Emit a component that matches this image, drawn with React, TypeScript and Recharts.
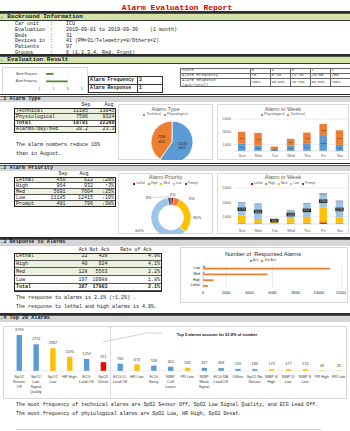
import React from 'react';
import { BarChart, Bar, XAxis, YAxis, CartesianGrid, PieChart, Pie, Cell, LabelList } from 'recharts';

const MONO = '"Liberation Mono", "DejaVu Sans Mono", monospace';
const SANS = '"Liberation Sans", "Open Sans", Arial, sans-serif';
const BLUE = '#5b9bd5';
const ORANGE = '#ed7d31';
const YELLOW = '#ffc000';
const RED = '#c00000';
const LIGHTBLUE = '#9dc3e6';
const DARK = '#44546a';
const GREEN_ROW = '#ebf1de';

// ---------- data ----------
const infoLabels = ['Car unit', 'Evaluation', 'Beds', 'Devices in', 'Patients', 'Groups'];
const infoValues = ['ICU', '2019-09-01 to 2019-09-30    (1 month)', '31', '41 (PM=31/Telemetry=8/Others=2)', '97', '6 (1,2,3,4, Red, Front)'];

const evalItems = ['Alarm Response', 'Alarm Frequency'];
const evalScores = [1, 3];
const evalTicks = [-1, 1, 3, 5];

const scoreLevels = ['5', '4', '3', '2', '1'];
const freqRanges = ['<5', '5~10', '11~25', '26~50', '>50'];
const respRanges = ['>90%', '90~80%', '79~70%', '69~60%', '<60%'];

const typeNames = ['Technical', 'Physiological'];
const typeSep = [11185, 7596];
const typeAug = [13045, 9324];
const perDayBed = ['20.2', '23.3'];

const days = ['Sun', 'Mon', 'Tue', 'Wed', 'Thu', 'Fri', 'Sat'];
const weekPhys = [1136, 868, 328, 843, 1119, 2350, 952];
const weekTech = [1867, 1964, 372, 1051, 1768, 1885, 2278];
const weekTicks = [0, 1000, 2000, 3000, 4000, 5000];

const prioNames = ['Lethal', 'High', 'Med', 'Low', 'Prompt'];
const prioSep = [450, 964, 5691, 11185, 491];
const prioAug = [622, 932, 7604, 12415, 796];
const prioChange = ['\u219328%', '\u21913%', '\u219325%', '\u219310%', '\u219338%'];
const weekLethal = [70, 60, 15, 50, 60, 140, 55];
const weekHigh = [130, 140, 30, 120, 150, 250, 144];
const weekMed = [1000, 500, 230, 630, 790, 1860, 681];
const weekLow = [1733, 2062, 400, 1034, 1817, 1860, 2279];
const weekPrompt = [70, 70, 25, 60, 70, 125, 71];

const respNames = ['Lethal', 'High', 'Med', 'Low'];
const respAck = [22, 40, 128, 197];
const respNotAck = [428, 924, 5563, 10988];
const respTicks = [0, 2000, 4000, 6000, 8000, 10000, 12000];

const top20Names = ['SpO2\nSensor\nOff', 'SpO2\nLow\nSignal\nQuality', 'SpO2\nLow', 'HR High', 'ECG\nLead Off', 'SpO2\nDesat', 'ECG LL\nLead Off', 'HR Low', 'ECG\nNoisy', 'NIBP\nCuff\nLoose', 'PR Low', 'NIBP\nWeak\nSignal', 'ECG RA\nLead Off', 'Offline', 'SpO2 No\nSensor', 'NIBP-S\nHigh', 'NIBP-D\nLow', 'NIBP-S\nLow', 'PR High', 'RR Low'];
const top20Counts = [3739, 2774, 2367, 1470, 1250, 915, 760, 673, 558, 450, 335, 327, 308, 219, 184, 179, 177, 174, 49, 26];
const top20Kinds = ['T', 'T', 'P', 'P', 'T', 'D', 'T', 'P', 'T', 'T', 'P', 'T', 'T', 'T', 'T', 'P', 'P', 'P', 'P', 'P'];

// ---------- derived tables for the library ----------
const sum = (a: number[]) => a.reduce((s, v) => s + v, 0);
const evalData = evalItems.map((n, i) => ({ name: n, v: evalScores[i] }));
const typePieData = typeNames.map((n, i) => ({ name: n, value: typeSep[i] }));
const typeWeekData = days.map((d, i) => ({ day: d, phys: weekPhys[i], tech: weekTech[i] }));
const prioPieData = prioNames.map((n, i) => ({ name: n, value: prioSep[i] }));
const prioWeekData = days.map((d, i) => ({ day: d, lethal: weekLethal[i], high: weekHigh[i], med: weekMed[i], low: weekLow[i], prompt: weekPrompt[i] }));
const respData = respNames.map((n, i) => ({ name: n, ack: respAck[i], notAck: respNotAck[i] })).reverse();
const top20Data = top20Names.map((n, i) => ({ name: n, count: top20Counts[i] }));
const kindColor: Record<string, string> = { T: BLUE, P: YELLOW, D: '#ff0000' };
const prioColors = [RED, ORANGE, YELLOW, LIGHTBLUE, DARK];
const typeColors = [BLUE, ORANGE];

const RAD = Math.PI / 180;

// ---------- helpers ----------
function T({ x, y, s = 5, a = 'l', b = false, c = '#1a1a1a', f = MONO, u = false, children }: any) {
  const w = 260;
  const left = a === 'l' ? x : a === 'r' ? x - w : x - w / 2;
  return (
    <div style={{ position: 'absolute', left, top: y - s / 2, width: w, textAlign: a === 'l' ? 'left' : a === 'r' ? 'right' : 'center', fontSize: s, lineHeight: `${s}px`, fontFamily: f, fontWeight: b ? 700 : 400, color: c, whiteSpace: 'pre', textDecoration: u ? 'underline' : 'none' }}>{children}</div>
  );
}

function Box({ x, y, w, h, border = '1px solid #d9d9d9', bg = 'transparent' }: any) {
  return <div style={{ position: 'absolute', left: x, top: y, width: w, height: h, border, background: bg, boxSizing: 'border-box' }} />;
}

function Section({ y, label, green }: any) {
  return (
    <>
      <div style={{ position: 'absolute', left: 0, top: y - 3, width: 350, height: 1.5, background: '#2b2b2b' }} />
      <div style={{ position: 'absolute', left: 0, top: y - 1, width: 350, height: 1, background: '#555' }} />
      <div style={{ position: 'absolute', left: 0, top: y, width: 350, height: 5.5, background: green ? '#d6e3a8' : '#d6d6d6', borderBottom: green ? '0.8px solid #333' : 'none' }} />
      <T x={green ? -3.6 : -3} y={y + 2.9} s={green ? 6 : 5.2} b>{label}</T>
    </>
  );
}

function Legend({ cx, y, items, s = 3.6 }: any) {
  return (
    <div style={{ position: 'absolute', left: cx - 70, width: 140, top: y - s / 2, display: 'flex', justifyContent: 'center', gap: 3, fontSize: s, lineHeight: `${s}px`, fontFamily: SANS, color: '#595959', whiteSpace: 'pre' }}>
      {items.map(([c, t]: any) => (
        <span key={t} style={{ display: 'flex', alignItems: 'center' }}>
          <span style={{ display: 'inline-block', width: 2, height: 2, background: c, marginRight: 1 }} />
          {t}
        </span>
      ))}
    </div>
  );
}

const axisTick = { fontSize: 3.8, fill: '#595959', fontFamily: SANS };

const WrapTick = (props: any) => {
  const { x, y, payload } = props;
  const lines = String(payload.value).split('\n');
  return (
    <g>
      {lines.map((l, i) => (
        <text key={i} x={x} y={y + 7.3 + i * 5} textAnchor="middle" fontSize={3.8} fill="#404040" fontFamily={SANS}>{l}</text>
      ))}
    </g>
  );
};

const EvalTick = (props: any) => {
  const { x, y, payload } = props;
  return (
    <text x={x} y={y + 1} textAnchor="end" fontSize={2.8} fill="#404040" fontFamily={SANS}>{payload.value}</text>
  );
};

const typePieLabel = (p: any) => {
  const r = p.outerRadius * 0.52;
  const x = p.cx + r * Math.cos(-p.midAngle * RAD);
  const y = p.cy + r * Math.sin(-p.midAngle * RAD);
  return (
    <text x={x} y={y} textAnchor="middle" fontSize={3.6} fill="#262626" fontFamily={SANS}>
      <tspan x={x} dy={-0.6}>{p.value}</tspan>
      <tspan x={x} dy={4.4}>{Math.round(p.percent * 100)}%</tspan>
    </text>
  );
};

const prioLabelAdj = [
  { da: 0, dr: 3, line: false },
  { da: -30, dr: 8, line: false },
  { da: -8, dr: 6, line: false },
  { da: -4.5, dr: 14, line: false },
  { da: 44, dr: 10, line: true },
];
const prioPieLabel = (p: any) => {
  const adj = prioLabelAdj[p.index];
  const a = (p.midAngle + adj.da) * RAD;
  const r = p.outerRadius + adj.dr;
  const x = p.cx + r * Math.cos(-a);
  const y = p.cy + r * Math.sin(-a);
  const ex = p.cx + (p.outerRadius + 1) * Math.cos(-p.midAngle * RAD);
  const ey = p.cy + (p.outerRadius + 1) * Math.sin(-p.midAngle * RAD);
  return (
    <g>
      {adj.line && <polyline points={`${x + 4},${y} ${ex},${ey}`} stroke="#a6a6a6" strokeWidth={0.5} fill="none" />}
      <text x={x} y={y + 1.4} textAnchor="middle" fontSize={4.2} fill="#404040" fontFamily={SANS}>{Math.round(p.percent * 100)}%</text>
    </g>
  );
};

const DarkLabel = (p: any) => {
  const { x, y, width, height, value } = p;
  const cx = x + width / 2;
  const cy = y + height / 2;
  return (
    <g>
      <rect x={cx - 4.2} y={cy - 1.8} width={8.4} height={3.6} fill="#262626" />
      <text x={cx} y={cy + 1.1} fontSize={3} textAnchor="middle" fill="#cfcfcf" fontFamily={SANS}>{value}</text>
    </g>
  );
};

export default function App() {
  const infoY = [24.3, 30, 36, 41.7, 47.7, 53.3];
  const typeRowH = 6.25;
  const prioRowH = 6;
  const respRowH = 7.7;
  const typeRows = [
    { l: typeNames[0], a: String(typeSep[0]), b: String(typeAug[0]), fill: GREEN_ROW, bold: false },
    { l: typeNames[1], a: String(typeSep[1]), b: String(typeAug[1]), fill: GREEN_ROW, bold: false },
    { l: 'Total', a: String(sum(typeSep)), b: String(sum(typeAug)), fill: '#fbfcf7', bold: true },
    { l: 'Alarms/day/bed', a: perDayBed[0], b: perDayBed[1], fill: GREEN_ROW, bold: false },
  ];
  const respRows = respNames.map((n, i) => ({ l: n, a: String(respAck[i]), b: String(respNotAck[i]), c: (respAck[i] / (respAck[i] + respNotAck[i]) * 100).toFixed(1) + '%', bold: false }));
  const tA = sum(respAck), tN = sum(respNotAck);
  respRows.push({ l: 'Total', a: String(tA), b: String(tN), c: (tA / (tA + tN) * 100).toFixed(1) + '%', bold: true });
  const respFills = [GREEN_ROW, GREEN_ROW, GREEN_ROW, '#ffffff', '#fbfcf7'];

  return (
    <div style={{ position: 'absolute', left: 0, top: 0, width: 350, height: 431, overflow: 'hidden', background: '#fff', color: '#1a1a1a' }}>
      {/* Title */}
      <T x={177} y={8} s={8} a="c" b c="#d40000" u>Alarm Evaluation Report</T>

      <Section y={14} label="1. Backround Information" green />
      {infoLabels.map((l, i) => (
        <React.Fragment key={l}>
          <T x={15} y={infoY[i]} s={5}>{l}</T>
          <T x={50} y={infoY[i]} s={5}>:</T>
          <T x={66} y={infoY[i]} s={5}>{infoValues[i]}</T>
        </React.Fragment>
      ))}

      <Section y={57} label="2. Evaluation Result" green />
      {/* mini evaluation chart */}
      <Box x={2} y={67} w={86} h={28} />
      <div style={{ position: 'absolute', left: 2, top: 67 }}>
        <BarChart layout="vertical" width={86} height={28} data={evalData} margin={{ top: 3, right: 6, bottom: 0, left: 0 }}>
          <CartesianGrid horizontal={false} stroke="#e0e0e0" strokeWidth={0.5} />
          <XAxis type="number" domain={[-1, 5]} ticks={evalTicks} tick={{ fontSize: 3, fill: '#404040', fontFamily: SANS }} tickLine={false} axisLine={false} height={10} tickSize={2} tickMargin={1} />
          <YAxis type="category" dataKey="name" width={37} interval={0} tick={<EvalTick />} tickLine={false} axisLine={false} tickSize={0} tickMargin={2} />
          <Bar dataKey="v" fill="#4f8a2e" barSize={1.8} isAnimationActive={false} />
        </BarChart>
      </div>
      {/* eval table */}
      <Box x={88} y={76} w={75} h={16.5} border="1px solid #333" />
      <div style={{ position: 'absolute', left: 88, top: 84, width: 75, height: 0.8, background: '#333' }} />
      <div style={{ position: 'absolute', left: 137, top: 76, width: 0.8, height: 16.5, background: '#333' }} />
      <T x={90} y={80.3} s={4.9} b>Alarm Frequency</T>
      <T x={139} y={80.3} s={4.9} b>{String(evalScores[1])}</T>
      <T x={90} y={88.3} s={4.9} b>Alarm Response</T>
      <T x={139} y={88.3} s={4.9} b>{String(evalScores[0])}</T>
      {/* score table */}
      <Box x={180} y={68} w={172} h={19} border="0.8px solid #666" />
      <div style={{ position: 'absolute', left: 180, top: 72.5, width: 172, height: 0.6, background: '#666' }} />
      <div style={{ position: 'absolute', left: 180, top: 77.8, width: 172, height: 0.6, background: '#666' }} />
      {[250, 270, 290, 310, 330].map((x) => (
        <div key={x} style={{ position: 'absolute', left: x, top: 68, width: 0.6, height: 19, background: '#666' }} />
      ))}
      <T x={182} y={70.4} s={4} c="#444">Score</T>
      <T x={182} y={75.3} s={4} c="#444">Alarm Frequency</T>
      <T x={182} y={80.3} s={4} c="#444">Alarm Response</T>
      <T x={182} y={84.6} s={4} c="#444">(Ack/Total)</T>
      {scoreLevels.map((v, i) => (
        <React.Fragment key={v}>
          <T x={251.5 + i * 20} y={70.4} s={4} c="#444">{v}</T>
          <T x={251.5 + i * 20} y={75.3} s={4} c="#444">{freqRanges[i]}</T>
          <T x={251.5 + i * 20} y={82.4} s={3.6} c="#444">{respRanges[i]}</T>
        </React.Fragment>
      ))}

      {/* 2.1 Alarm Type */}
      <Section y={96.5} label="2.1 Alarm Type" />
      <T x={86} y={105.3} s={5} a="c">Sep</T>
      <T x={109} y={105.3} s={5} a="c">Aug</T>
      {typeRows.map((r, i) => (
        <React.Fragment key={r.l}>
          <div style={{ position: 'absolute', left: 14, top: 108 + i * typeRowH, width: 102, height: typeRowH, background: r.fill, borderBottom: '0.6px solid #555', boxSizing: 'border-box' }} />
          <T x={16} y={108 + i * typeRowH + 3.2} s={5} b={r.bold}>{r.l}</T>
          <T x={88} y={108 + i * typeRowH + 3.2} s={5} a="r" b={r.bold}>{r.a}</T>
          <T x={114.5} y={108 + i * typeRowH + 3.2} s={5} a="r" b={r.bold}>{r.b}</T>
        </React.Fragment>
      ))}
      <Box x={14} y={108} w={102} h={25} border="1.2px solid #222" />
      <T x={16} y={145} s={5}>The alarm numbers reduce 16%</T>
      <T x={16} y={154} s={5}>than in August.</T>

      {/* type pie */}
      <Box x={118} y={104} w={95} h={56} />
      <T x={165.5} y={110} s={5.6} a="c" f={SANS} c="#595959">Alarm Type</T>
      <Legend cx={165.5} y={114.5} items={[[BLUE, 'Technical'], [ORANGE, 'Physiological']]} s={3.5} />
      <div style={{ position: 'absolute', left: 118, top: 104 }}>
        <PieChart width={95} height={56}>
          <Pie data={typePieData} dataKey="value" nameKey="name" cx={49} cy={33} outerRadius={21} startAngle={90} endAngle={-270} stroke="#fff" strokeWidth={0.8} isAnimationActive={false} label={typePieLabel} labelLine={false}>
            {typePieData.map((d, i) => <Cell key={d.name} fill={typeColors[i]} />)}
          </Pie>
        </PieChart>
      </div>

      {/* type week */}
      <Box x={217} y={104} w={132} h={56} />
      <T x={283} y={110} s={5.6} a="c" f={SANS} c="#595959">Alarm in Week</T>
      <Legend cx={283} y={115} items={[[BLUE, 'Physiological'], [ORANGE, 'Technical']]} s={3.5} />
      <div style={{ position: 'absolute', left: 217, top: 105 }}>
        <BarChart width={132} height={54} data={typeWeekData} margin={{ top: 14, right: 1, bottom: 0, left: 0 }}>
          <CartesianGrid vertical={false} stroke="#d9d9d9" strokeWidth={0.5} />
          <XAxis dataKey="day" interval={0} tick={axisTick} tickLine={false} axisLine={{ stroke: '#d9d9d9', strokeWidth: 0.5 }} height={8} tickSize={2} tickMargin={1} />
          <YAxis width={17} domain={[0, 5000]} ticks={weekTicks} tick={axisTick} tickLine={false} axisLine={false} tickSize={2} tickMargin={1} />
          <Bar dataKey="phys" stackId="a" fill={BLUE} barSize={7.5} isAnimationActive={false}>
            <LabelList dataKey="phys" position="center" fontSize={2.8} fill="#262626" />
          </Bar>
          <Bar dataKey="tech" stackId="a" fill={ORANGE} barSize={7.5} isAnimationActive={false}>
            <LabelList dataKey="tech" position="center" fontSize={2.8} fill="#262626" />
          </Bar>
        </BarChart>
      </div>

      {/* 2.2 Alarm Priority */}
      <Section y={165.5} label="2.2 Alarm Priority" />
      <T x={63} y={174.6} s={5} a="c">Sep</T>
      <T x={84} y={174.6} s={5} a="c">Aug</T>
      {prioNames.map((n, i) => (
        <React.Fragment key={n}>
          <div style={{ position: 'absolute', left: 14, top: 177 + i * prioRowH, width: 102, height: prioRowH, background: i % 2 === 0 ? GREEN_ROW : '#fff', borderBottom: '0.6px solid #555', boxSizing: 'border-box' }} />
          <T x={16} y={177 + i * prioRowH + 3.1} s={5}>{n}</T>
          <T x={65.5} y={177 + i * prioRowH + 3.1} s={5} a="r">{String(prioSep[i])}</T>
          <T x={93} y={177 + i * prioRowH + 3.1} s={5} a="r">{String(prioAug[i])}</T>
          <T x={114} y={177 + i * prioRowH + 3.1} s={5} a="r">{prioChange[i]}</T>
        </React.Fragment>
      ))}
      <Box x={14} y={177} w={102} h={30} border="1.2px solid #222" />

      {/* priority donut */}
      <Box x={118} y={173} w={95} h={61} />
      <T x={165.5} y={177.5} s={5.6} a="c" f={SANS} c="#595959">Alarm Priority</T>
      <Legend cx={165.5} y={184} items={prioNames.map((n, i) => [prioColors[i], n])} s={3.2} />
      <div style={{ position: 'absolute', left: 118, top: 173 }}>
        <PieChart width={95} height={61}>
          <Pie data={prioPieData} dataKey="value" nameKey="name" cx={48} cy={39.5} outerRadius={20} innerRadius={12.5} startAngle={90} endAngle={-270} stroke="#fff" strokeWidth={0.5} isAnimationActive={false} label={prioPieLabel} labelLine={false}>
            {prioPieData.map((d, i) => <Cell key={d.name} fill={prioColors[i]} />)}
          </Pie>
        </PieChart>
      </div>

      {/* priority week */}
      <Box x={217} y={173} w={132} h={61} />
      <T x={283} y={177.5} s={5.6} a="c" f={SANS} c="#595959">Alarm in Week</T>
      <Legend cx={283} y={184} items={prioNames.map((n, i) => [prioColors[i], n])} s={3.2} />
      <div style={{ position: 'absolute', left: 217, top: 173 }}>
        <BarChart width={132} height={61} data={prioWeekData} margin={{ top: 15, right: 1, bottom: 0, left: 0 }}>
          <CartesianGrid vertical={false} stroke="#d9d9d9" strokeWidth={0.5} />
          <XAxis dataKey="day" interval={0} tick={axisTick} tickLine={false} axisLine={{ stroke: '#d9d9d9', strokeWidth: 0.5 }} height={10} tickSize={2} tickMargin={3} />
          <YAxis width={17} domain={[0, 5000]} ticks={weekTicks} tick={axisTick} tickLine={false} axisLine={false} tickSize={2} tickMargin={1} />
          <Bar dataKey="lethal" stackId="p" fill={RED} barSize={7.5} isAnimationActive={false} />
          <Bar dataKey="high" stackId="p" fill={ORANGE} barSize={7.5} isAnimationActive={false} />
          <Bar dataKey="med" stackId="p" fill={YELLOW} barSize={7.5} isAnimationActive={false} />
          <Bar dataKey="low" stackId="p" fill={LIGHTBLUE} barSize={7.5} isAnimationActive={false}>
            <LabelList dataKey="low" content={DarkLabel} />
          </Bar>
          <Bar dataKey="prompt" stackId="p" fill={DARK} barSize={7.5} isAnimationActive={false} />
        </BarChart>
      </div>

      {/* 2.3 Response */}
      <Section y={240} label="2.3 Response to Alarms" />
      <T x={83} y={250} s={4.8} a="c">Ack</T>
      <T x={99.5} y={250} s={4.8} a="c">Not Ack</T>
      <T x={136} y={250} s={4.8} a="c">Rate of Ack</T>
      {respRows.map((r, i) => (
        <React.Fragment key={r.l}>
          <div style={{ position: 'absolute', left: 14, top: 253 + i * respRowH, width: 148, height: respRowH, background: respFills[i], borderBottom: '0.6px solid #555', boxSizing: 'border-box' }} />
          <T x={16} y={253 + i * respRowH + 3.9} s={5} b={r.bold}>{r.l}</T>
          <T x={87.5} y={253 + i * respRowH + 3.9} s={5} a="r" b={r.bold}>{r.a}</T>
          <T x={107.5} y={253 + i * respRowH + 3.9} s={5} a="r" b={r.bold}>{r.b}</T>
          <T x={160} y={253 + i * respRowH + 3.9} s={5} a="r" b={r.bold}>{r.c}</T>
        </React.Fragment>
      ))}
      <Box x={14} y={253} w={148} h={38.5} border="1.2px solid #222" />
      <T x={16} y={298} s={5}>The response to alarms is 2.1% (↑1.2%) .</T>
      <T x={16} y={307} s={5}>The response to lethal and high alarms is 4.9%.</T>

      <Box x={180} y={247} w={168} h={56} />
      <T x={263} y={255} s={5.6} a="c" f={SANS} c="#262626">Number of  Responsed Alarms</T>
      <Legend cx={263} y={261} items={[[BLUE, 'Ack'], [ORANGE, 'Not Ack']]} s={3.4} />
      <div style={{ position: 'absolute', left: 180, top: 247 }}>
        <BarChart layout="vertical" width={166} height={55} data={respData} margin={{ top: 18, right: 4, bottom: 0, left: 0 }} barGap={0}>
          <CartesianGrid horizontal={false} stroke="#d9d9d9" strokeWidth={0.5} />
          <XAxis type="number" domain={[0, 12000]} ticks={respTicks} tick={{ ...axisTick, fill: '#262626' }} tickLine={false} axisLine={false} height={14} tickSize={2} tickMargin={1} />
          <YAxis type="category" dataKey="name" width={23} interval={0} tick={{ fontSize: 3.4, fill: '#262626', fontFamily: SANS }} tickLine={false} axisLine={{ stroke: '#d9d9d9', strokeWidth: 0.5 }} tickSize={0} tickMargin={3} />
          <Bar dataKey="ack" fill={BLUE} barSize={1.8} isAnimationActive={false} />
          <Bar dataKey="notAck" fill={ORANGE} barSize={1.8} isAnimationActive={false} />
        </BarChart>
      </div>

      {/* 2.4 Top 20 */}
      <Section y={316} label="2.4 Top 20 Alarms" />
      <Box x={3} y={326} w={344} h={73} />
      <div style={{ position: 'absolute', left: 3, top: 326 }}>
        <BarChart width={344} height={73} data={top20Data} margin={{ top: 6.5, right: 0, bottom: 0, left: 7.6 }}>
          <XAxis dataKey="name" interval={0} height={28} tickLine={false} axisLine={{ stroke: '#d9d9d9', strokeWidth: 0.5 }} tickSize={0} tickMargin={0} tick={<WrapTick />} />
          <YAxis hide domain={[0, 4000]} />
          <Bar dataKey="count" barSize={5.4} isAnimationActive={false}>
            {top20Data.map((d, i) => <Cell key={i} fill={kindColor[top20Kinds[i]]} />)}
            <LabelList dataKey="count" position="top" offset={4} fontSize={3.8} fill="#404040" fontFamily={SANS} />
          </Bar>
        </BarChart>
      </div>
      <svg style={{ position: 'absolute', left: 0, top: 0 }} width={350} height={431}>
        <line x1={110.5} y1={327} x2={110.5} y2={398} stroke="#a6a6a6" strokeWidth={0.6} strokeDasharray="1.5,1" />
        <polyline points="103,342 147,333 162,333" stroke="#bfbfbf" strokeWidth={0.7} fill="none" />
      </svg>
      <T x={217} y={335} s={4} a="c" f={SANS} b c="#111">Top 5 alarms account for 61.8% of number</T>
      <T x={16} y={405} s={4.95}>The most frequency of technical alarms are SpO2 Sensor Off, SpO2 Low Signal Quality, and ECG Lead Off.</T>
      <T x={16} y={414} s={4.95}>The most frequency of phyiological alarms are SpO2 Low, HR High, SpO2 Desat.</T>
      <div style={{ position: 'absolute', left: 16, top: 429, width: 305, height: 0.6, background: '#d0d0d0' }} />
    </div>
  );
}
